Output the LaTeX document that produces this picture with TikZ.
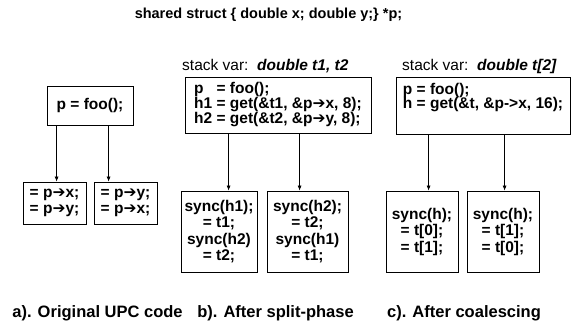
\documentclass[tikz,border=0pt]{standalone}
\usepackage{fontspec}
\setmainfont{Liberation Sans}
\newfontfamily\symfont{DejaVu Sans}
\usetikzlibrary{arrows.meta}
\newcommand{\pa}{{\symfont\char"2794}}
\newcommand{\dn}[3]{\draw[-{Latex[length=5pt,width=4pt]},line width=0.7pt] ([xshift=#2]#1.south west) -- ([xshift=#2]#1.south west |- #3.north);}

\begin{document}
\begin{tikzpicture}[x=1pt,y=-1pt,
  box/.style={draw,line width=0.8pt,inner sep=2pt,font=\bfseries\fontsize{15.5}{16.5}\selectfont},
  topbox/.style={box,align=left,font=\bfseries\fontsize{15.5}{14.5}\selectfont},
  lowbox/.style={box,align=center,minimum height=81},
  lbl/.style={inner sep=0pt,font=\fontsize{15.5}{17}\selectfont},
  capt/.style={inner sep=0pt,font=\bfseries\fontsize{16.5}{18}\selectfont}]
  \useasboundingbox (0,0) rectangle (571,327);
  \node[inner sep=0pt,font=\bfseries\fontsize{14.5}{17}\selectfont] (title) at (268.5,14.5) {shared struct \{ double x; double y;\} *p;};
  % a). original code
  \node[box,minimum width=86,minimum height=39] (a0) at (90,105.5) {p = foo();};
  \node[box,align=center,minimum width=63,minimum height=42] (a1) at (54.5,203) {= p\pa x;\\= p\pa y;};
  \node[box,align=center,minimum width=63,minimum height=42] (a2) at (125.5,203) {= p\pa y;\\= p\pa x;};
  \dn{a0}{10}{a1} \dn{a0}{62}{a2}
  \node[capt] (capa) at (97.5,313) {a). Original UPC code};
  % b). split-phase
  \node[lbl,anchor=base west] (stb) at (182,70) {stack var:\ \ \textbf{\textit{double t1, t2}}};
  \node[topbox,minimum width=186,minimum height=56] (b0) at (278,105) {\rlap{p}\phantom{h1} = foo();\\h1 = get(\&t1, \&p\pa x, 8);\\h2 = get(\&t2, \&p\pa y, 8);};
  \node[lowbox,minimum width=76] (b1) at (219,231.5) {sync(h1);\\= t1;\\sync(h2)\\= t2;};
  \node[lowbox,minimum width=81] (b2) at (307.5,231.5) {sync(h2);\\= t2;\\sync(h1)\\= t1;};
  \dn{b0}{44}{b1} \dn{b0}{115}{b2}
  \node[capt] (capb) at (275.5,313) {b). After split-phase};
  % c). coalescing
  \node[lbl,anchor=base west] (stc) at (402,70) {stack var:\ \ \textbf{\textit{double t[2]}}};
  \node[topbox,minimum width=174,minimum height=57] (c0) at (483,105.5) {p = foo();\\h = get(\&t, \&p->x, 16);\\\strut};
  \node[lowbox,minimum width=72] (c1) at (422,231.5) {sync(h);\\= t[0];\\= t[1];};
  \node[lowbox,minimum width=72] (c2) at (503,231.5) {sync(h);\\= t[1];\\= t[0];};
  \dn{c0}{33}{c1} \dn{c0}{109}{c2}
  \node[capt] (capc) at (464,313) {c). After coalescing};
\end{tikzpicture}
\end{document}
